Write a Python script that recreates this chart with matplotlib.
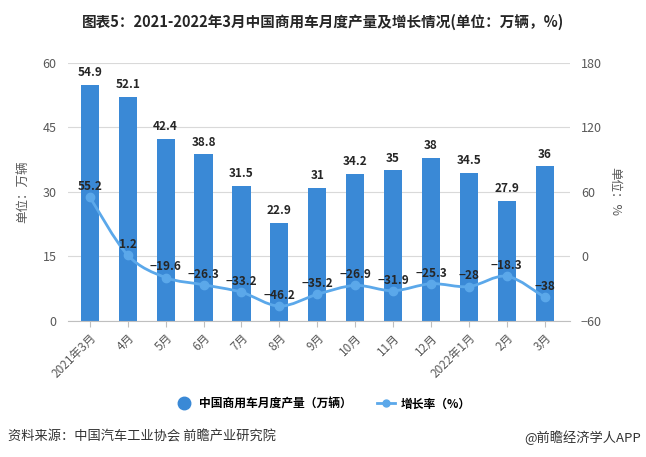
import matplotlib.pyplot as plt
import numpy as np
from matplotlib.path import Path
from matplotlib.patches import PathPatch
from matplotlib.lines import Line2D

plt.rcParams['font.family'] = ['Noto Sans CJK SC', 'DejaVu Sans']

months = ['2021年3月', '4月', '5月', '6月', '7月', '8月', '9月', '10月',
          '11月', '12月', '2022年1月', '2月', '3月']
output = [54.9, 52.1, 42.4, 38.8, 31.5, 22.9, 31, 34.2, 35, 38, 34.5, 27.9, 36]
growth = [55.2, 1.2, -19.6, -26.3, -33.2, -46.2, -35.2, -26.9, -31.9, -25.3, -28, -18.3, -38]

bar_color = '#3a89d6'
line_color = '#5ba8ea'
grid_color = '#d9d9d9'
text_grey = '#595959'

fig = plt.figure(figsize=(6.46, 4.57), dpi=100)
ax = fig.add_axes([0.105, 0.2976, 0.777, 0.5646])
x = np.arange(len(months))

ax.bar(x, output, width=0.48, color=bar_color, zorder=2)
ax.set_xlim(-0.58, 12.66)
ax.set_ylim(0, 60)
ax.set_yticks([0, 15, 30, 45, 60])
ax.grid(axis='y', color=grid_color, linewidth=0.8, zorder=0)
for s in ['top', 'right', 'left']:
    ax.spines[s].set_visible(False)
ax.spines['bottom'].set_color('#bfbfbf')
ax.tick_params(axis='y', length=0, labelsize=9, labelcolor=text_grey, pad=8)
ax.tick_params(axis='x', length=4, color='#bfbfbf', labelsize=8.5, labelcolor=text_grey)
ax.set_xticks(x)
ax.set_xticklabels(months, rotation=45, ha='right', rotation_mode='anchor')
ax.set_ylabel('单位：万辆', fontsize=9, color=text_grey, labelpad=10)

for xi, v in zip(x, output):
    ax.annotate(f'{v:g}', (xi, v), xytext=(0, 4), textcoords='offset points',
                ha='center', va='bottom', fontsize=8.5, fontweight='bold',
                color='#262626', zorder=5)

ax2 = ax.twinx()
ax2.set_ylim(-60, 180)
ax2.set_yticks([-60, 0, 60, 120, 180])
for s in ['top', 'right', 'left', 'bottom']:
    ax2.spines[s].set_visible(False)
ax2.tick_params(axis='y', length=0, labelsize=9, labelcolor=text_grey, pad=8)
ax2.set_ylabel('单位：%', fontsize=9, color=text_grey, rotation=-90, labelpad=14)

# smooth curve through the points (Catmull-Rom as cubic bezier)
gx = x.astype(float)
gy = np.array(growth, dtype=float)
verts = [(gx[0], gy[0])]
codes = [Path.MOVETO]
for i in range(len(gx) - 1):
    p0 = (gx[max(i - 1, 0)], gy[max(i - 1, 0)])
    p1 = (gx[i], gy[i])
    p2 = (gx[i + 1], gy[i + 1])
    p3 = (gx[min(i + 2, len(gx) - 1)], gy[min(i + 2, len(gx) - 1)])
    t = 0.16
    c1 = (p1[0] + (p2[0] - p0[0]) * t, p1[1] + (p2[1] - p0[1]) * t)
    c2 = (p2[0] - (p3[0] - p1[0]) * t, p2[1] - (p3[1] - p1[1]) * t)
    verts += [c1, c2, p2]
    codes += [Path.CURVE4] * 3
ax2.add_patch(PathPatch(Path(verts, codes), fill=False, edgecolor=line_color,
                        linewidth=2, zorder=3))
ax2.plot(gx, gy, 'o', color=line_color, markersize=6, zorder=4)
for xi, v in zip(x, growth):
    ax2.annotate(f'{v:g}'.replace('-', '−'), (xi, v), xytext=(0, 3),
                 textcoords='offset points', ha='center', va='bottom',
                 fontsize=8.5, fontweight='bold', color='#262626', zorder=6)

fig.text(0.5, 0.952, '图表5：2021-2022年3月中国商用车月度产量及增长情况(单位：万辆，%)',
         ha='center', va='center', fontsize=10.5, fontweight='bold', color='#262626')

handles = [Line2D([], [], marker='o', linestyle='none', color=bar_color, markersize=9),
           Line2D([], [], marker='o', color=line_color, linewidth=2, markersize=5)]
fig.legend(handles, ['中国商用车月度产量（万辆）', '增长率（%）'], loc='center',
           bbox_to_anchor=(0.5, 0.116), ncol=2, frameon=False,
           handlelength=1.5, columnspacing=2.2, handletextpad=0.5,
           prop={'size': 8.5, 'weight': 'bold'})

fig.text(0.012, 0.043, '资料来源：中国汽车工业协会 前瞻产业研究院', ha='left', va='center',
         fontsize=9.5, color='#333333')
fig.text(0.992, 0.043, '@前瞻经济学人APP', ha='right', va='center',
         fontsize=9.5, color='#333333')

fig.savefig('out.png', dpi=100)
